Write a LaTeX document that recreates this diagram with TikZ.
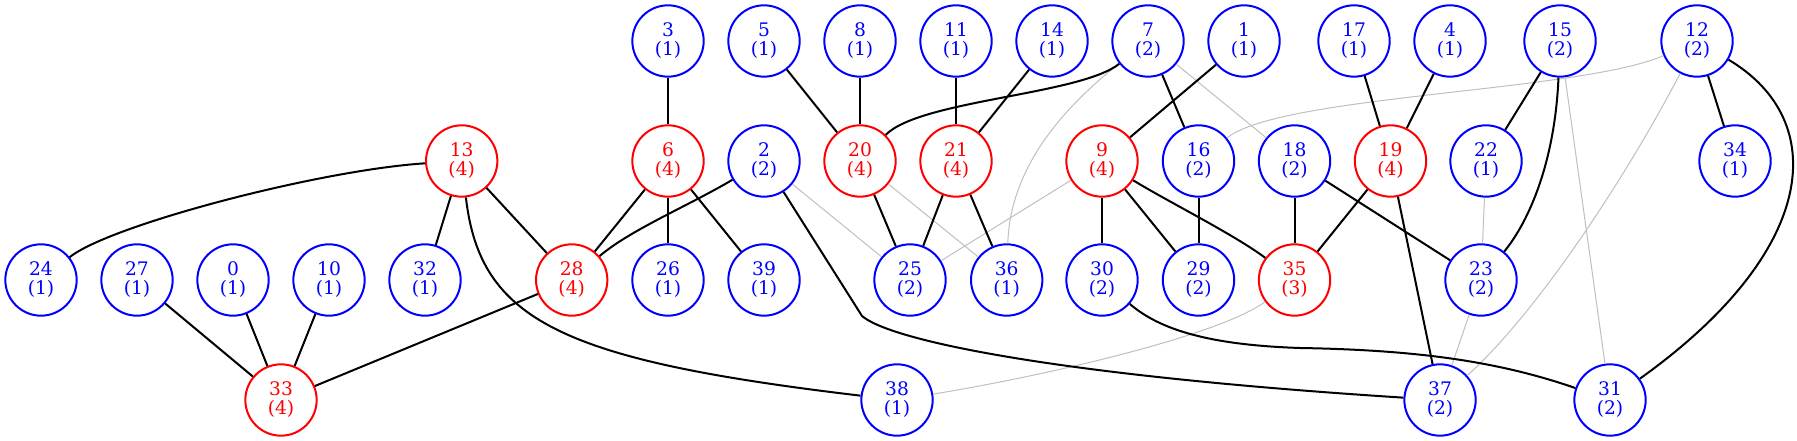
\documentclass[tikz,border=0pt]{standalone}
\usepackage{fontspec}
\setmainfont{DejaVu Serif}
\begin{document}
\begin{tikzpicture}[x=0.75pt,y=-0.75pt,
  nb/.style={circle, draw=blue, text=blue, line width=1.5pt, minimum size=53.5pt, inner sep=0pt, align=center, font=\fontsize{14}{14.25}\selectfont},
  nr/.style={nb, draw=red, text=red},
  e/.style={line width=1.5pt, black},
  g/.style={line width=0.75pt, draw=lightgray}]
\useasboundingbox (0,0) rectangle (1797,441);
% row 1
\node[nb] (n3)  at (668,41)  {3\\(1)};
\node[nb] (n5)  at (764,41)  {5\\(1)};
\node[nb] (n8)  at (860,41)  {8\\(1)};
\node[nb] (n11) at (956,41)  {11\\(1)};
\node[nb] (n14) at (1052,41) {14\\(1)};
\node[nb] (n7)  at (1148,41) {7\\(2)};
\node[nb] (n1)  at (1244,41) {1\\(1)};
\node[nb] (n17) at (1354,41) {17\\(1)};
\node[nb] (n4)  at (1450,41) {4\\(1)};
\node[nb] (n15) at (1560,41) {15\\(2)};
\node[nb] (n12) at (1697,41) {12\\(2)};
% row 2
\node[nr] (n13) at (461.7,161) {13\\(4)};
\node[nr] (n6)  at (668,161)  {6\\(4)};
\node[nb] (n2)  at (764,161)  {2\\(2)};
\node[nr] (n20) at (860,161)  {20\\(4)};
\node[nr] (n21) at (956,161)  {21\\(4)};
\node[nr] (n9)  at (1102,161) {9\\(4)};
\node[nb] (n16) at (1198.5,161) {16\\(2)};
\node[nb] (n18) at (1294.5,161) {18\\(2)};
\node[nr] (n19) at (1390.5,161) {19\\(4)};
\node[nb] (n22) at (1486,161) {22\\(1)};
\node[nb] (n34) at (1735,161) {34\\(1)};
% row 3
\node[nb] (n24) at (41,280)  {24\\(1)};
\node[nb] (n27) at (137,280) {27\\(1)};
\node[nb] (n0)  at (233,280) {0\\(1)};
\node[nb] (n10) at (329,280) {10\\(1)};
\node[nb] (n32) at (425,280) {32\\(1)};
\node[nr] (n28) at (571.7,280) {28\\(4)};
\node[nb] (n26) at (668,280) {26\\(1)};
\node[nb] (n39) at (764,280) {39\\(1)};
\node[nb] (n25) at (910,280) {25\\(2)};
\node[nb] (n36) at (1006.7,280) {36\\(1)};
\node[nb] (n30) at (1102,280) {30\\(2)};
\node[nb] (n29) at (1198.5,280) {29\\(2)};
\node[nr] (n35) at (1294.5,280) {35\\(3)};
\node[nb] (n23) at (1481,280) {23\\(2)};
% row 4
\node[nr] (n33) at (281,400) {33\\(4)};
\node[nb] (n38) at (897,400) {38\\(1)};
\node[nb] (n37) at (1440,400) {37\\(2)};
\node[nb] (n31) at (1610,400) {31\\(2)};
\coordinate (k2) at (862,316);
\coordinate (k30) at (1300,348);
% gray edges
\draw[g] (n2) -- (n25);
\draw[g] (n20) -- (n36);
\draw[g] (n9) -- (n25);
\draw[g] (n7) -- (n18);
\draw[g] (n22) -- (n23);
\draw[g] (n15) -- (n31);
\draw[g] (n23) -- (n37);
\draw[g] (n7) .. controls (1060,110) and (1010,170) .. (n36);
\draw[g] (n12) .. controls (1580,92) and (1280,95) .. (n16);
\draw[g] (n12) .. controls (1630,170) and (1540,310) .. (n37);
\draw[g] (n35) .. controls (1220,335) and (1050,375) .. (n38);
% black edges
\draw[e] (n13) .. controls (320,170) and (110,225) .. (n24);
\draw[e] (n13) -- (n32);
\draw[e] (n13) -- (n28);
\draw[e] (n13) .. controls (480,320) and (560,360) .. (n38);
\draw[e] (n27) -- (n33);
\draw[e] (n0) -- (n33);
\draw[e] (n10) -- (n33);
\draw[e] (n28) -- (n33);
\draw[e] (n6) -- (n28);
\draw[e] (n2) .. controls (690,205) and (630,230) .. (n28);
\draw[e] (n3) -- (n6);
\draw[e] (n6) -- (n26);
\draw[e] (n6) -- (n39);
\draw[e] (n2) -- (k2) .. controls (890,340) and (1050,375) .. (n37);
\draw[e] (n5) -- (n20);
\draw[e] (n8) -- (n20);
\draw[e] (n7) .. controls (1080,95) and (920,100) .. (n20);
\draw[e] (n11) -- (n21);
\draw[e] (n14) -- (n21);
\draw[e] (n20) -- (n25);
\draw[e] (n21) -- (n25);
\draw[e] (n21) -- (n36);
\draw[e] (n1) -- (n9);
\draw[e] (n7) -- (n16);
\draw[e] (n9) -- (n30);
\draw[e] (n9) -- (n29);
\draw[e] (n9) .. controls (1165,200) and (1235,235) .. (n35);
\draw[e] (n16) -- (n29);
\draw[e] (n18) -- (n35);
\draw[e] (n18) -- (n23);
\draw[e] (n19) -- (n35);
\draw[e] (n19) -- (n37);
\draw[e] (n17) -- (n19);
\draw[e] (n4) -- (n19);
\draw[e] (n15) -- (n22);
\draw[e] (n15) .. controls (1555,160) and (1530,220) .. (n23);
\draw[e] (n12) -- (n34);
\draw[e] (n12) .. controls (1830,120) and (1820,250) .. (n31);
\draw[e] (n30) .. controls (1160,330) and (1210,345) .. (k30) .. controls (1420,350) and (1500,362) .. (n31);
\end{tikzpicture}
\end{document}
